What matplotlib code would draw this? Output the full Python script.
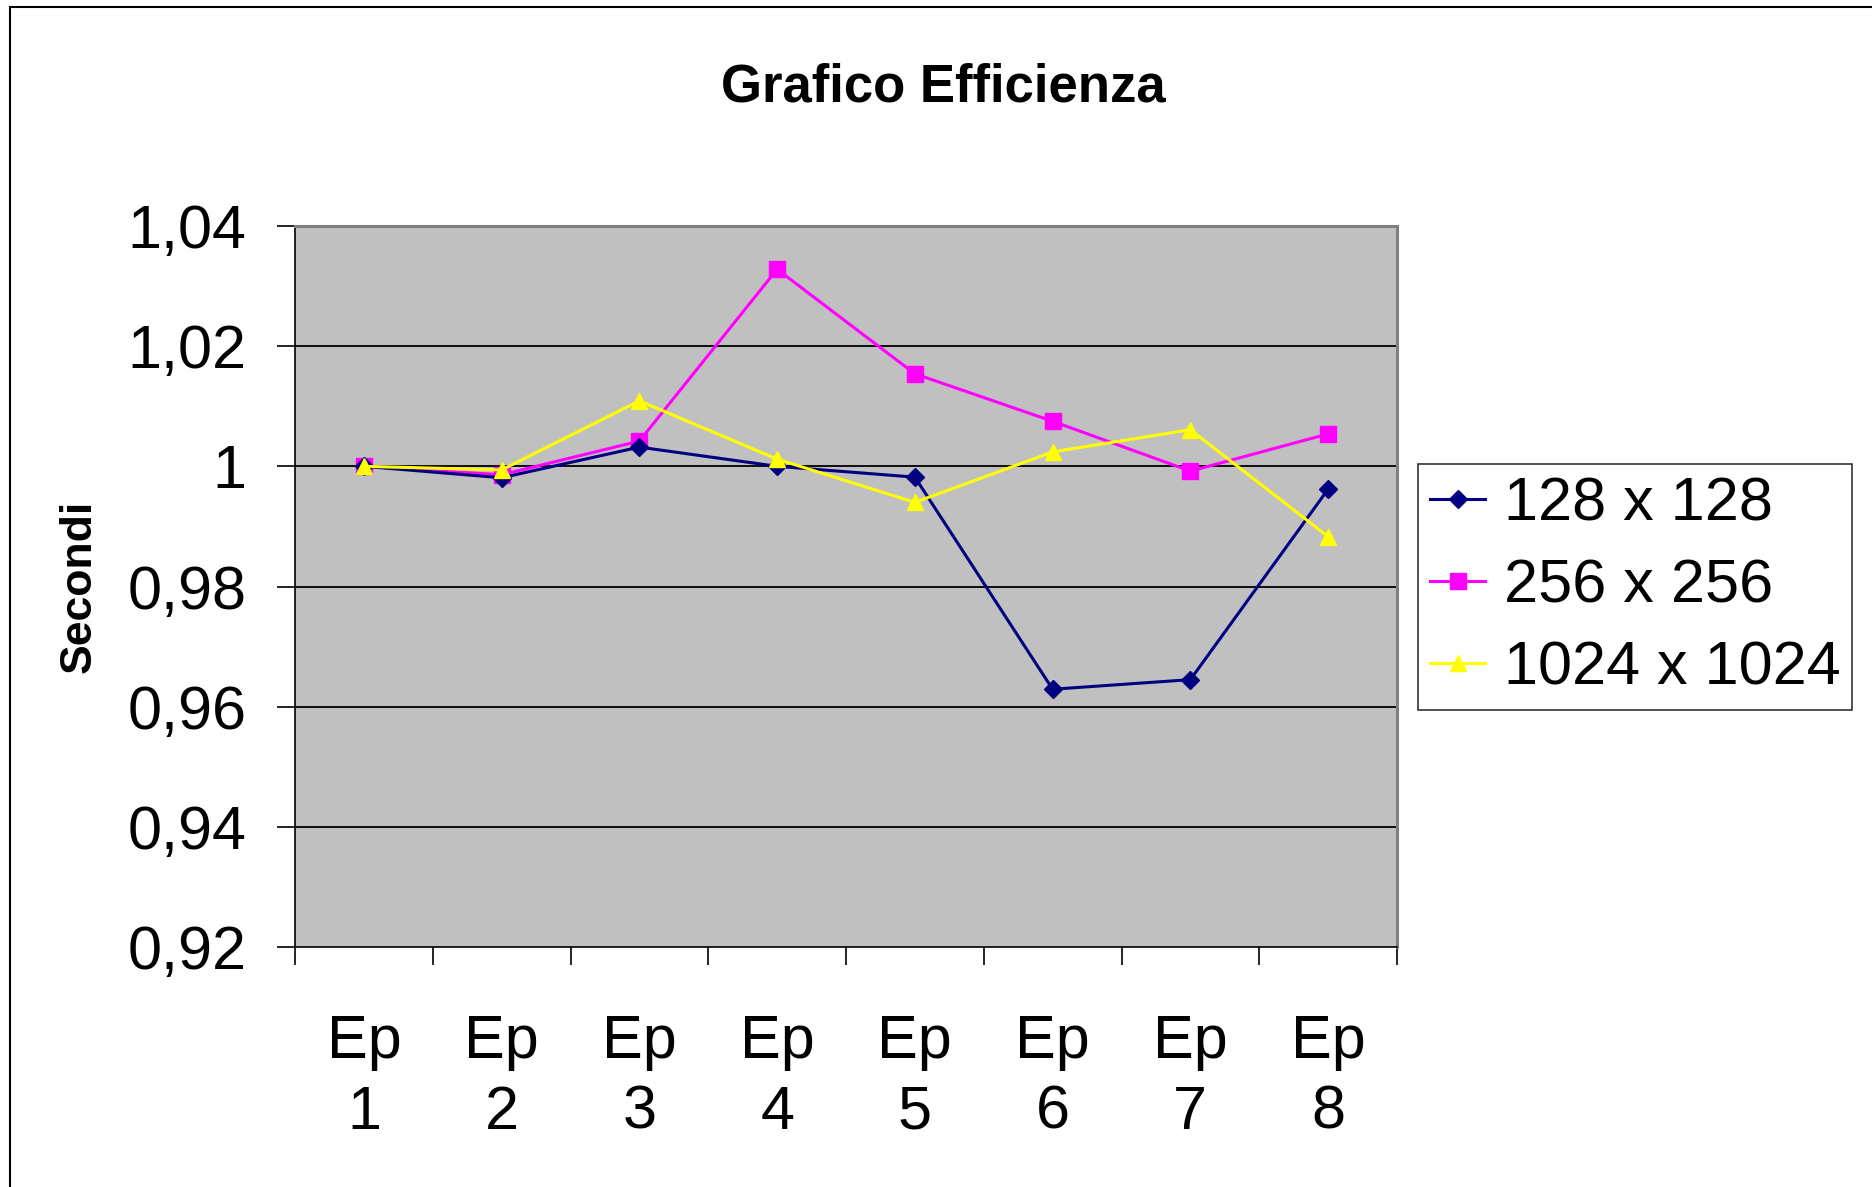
import matplotlib
matplotlib.use("Agg")
import matplotlib.pyplot as plt
from matplotlib.patches import Rectangle
from matplotlib.ticker import FixedLocator, NullFormatter

CATEGORIES = ["Ep\n1", "Ep\n2", "Ep\n3", "Ep\n4", "Ep\n5", "Ep\n6", "Ep\n7", "Ep\n8"]
SERIES_NAMES = ["128 x 128", "256 x 256", "1024 x 1024"]
VALUES_128 = [1.0, 0.9981, 1.0032, 1.0, 0.9982, 0.9629, 0.9645, 0.9962]
VALUES_256 = [1.0, 0.9986, 1.0042, 1.0328, 1.0154, 1.0075, 0.9992, 1.0054]
VALUES_1024 = [1.0, 0.9994, 1.0109, 1.0012, 0.9940, 1.0024, 1.0061, 0.9883]
Y_TICKS = [0.92, 0.94, 0.96, 0.98, 1.0, 1.02, 1.04]
Y_TICK_LABELS = ["0,92", "0,94", "0,96", "0,98", "1", "1,02", "1,04"]

W, H = 1872, 1187


def run():
    plt.rcParams["font.family"] = ["Liberation Sans", "DejaVu Sans"]
    fig = plt.figure(figsize=(W / 100, H / 100), dpi=100)

    # plot area in pixels: left 295, right 1397, top 226, bottom 947
    ax = fig.add_axes([295 / W, 1 - 947 / H, (1397 - 295) / W, (947 - 226) / H])
    ax.set_facecolor("#C0C0C0")

    x = list(range(len(CATEGORIES)))
    ax.plot(x, VALUES_128, color="#000080", lw=2.2, marker="D", ms=9,
            label=SERIES_NAMES[0], zorder=5)
    ax.plot(x, VALUES_256, color="#FF00FF", lw=2.2, marker="s", ms=11,
            label=SERIES_NAMES[1], zorder=4)
    ax.plot(x, VALUES_1024, color="#FFFF00", lw=2.2, marker="^", ms=12,
            label=SERIES_NAMES[2], zorder=6)

    ax.set_xlim(-0.5, len(CATEGORIES) - 0.5)
    ax.set_ylim(Y_TICKS[0], Y_TICKS[-1])

    ax.set_yticks(Y_TICKS)
    ax.set_yticklabels(Y_TICK_LABELS, fontsize=44)
    ax.tick_params(axis="y", length=13, width=1.2, pad=22, direction="out")
    for yv in Y_TICKS[1:-1]:
        ax.axhline(yv, color="black", lw=1.3, zorder=1)

    # tick marks on category boundaries, labels at category centres
    ax.xaxis.set_major_locator(FixedLocator([i - 0.5 for i in range(len(CATEGORIES) + 1)]))
    ax.xaxis.set_major_formatter(NullFormatter())
    ax.xaxis.set_minor_locator(FixedLocator(x))
    ax.set_xticklabels(CATEGORIES, minor=True, fontsize=44, linespacing=1.32)
    ax.tick_params(axis="x", which="major", length=13, width=1.2, direction="out")
    ax.tick_params(axis="x", which="minor", length=0, pad=48)

    for side in ("top", "right"):
        ax.spines[side].set_color("#808080")
        ax.spines[side].set_linewidth(2.2)
    for side in ("left", "bottom"):
        ax.spines[side].set_color("black")
        ax.spines[side].set_linewidth(1.2)

    fig.text(79 / W, 1 - 586 / H, "Secondi", fontsize=32, fontweight="bold",
             rotation=90, ha="center", va="center")

    fig.text(943 / W, 1 - 87 / H, "Grafico Efficienza", fontsize=38,
             fontweight="bold", ha="center", va="center")

    leg = fig.legend(loc="upper left", bbox_to_anchor=(1418 / W, 1 - 464 / H),
                     fontsize=44, frameon=True, fancybox=False, edgecolor="black",
                     borderaxespad=0, handlelength=0.9, handletextpad=0.3,
                     labelspacing=0.41, borderpad=0.2)
    leg.get_frame().set_linewidth(1.2)

    fig.patches.append(Rectangle((10 / W, -0.1), 1.2, 1.1 - 7 / H, fill=False,
                                 edgecolor="black", lw=1.5,
                                 transform=fig.transFigure, figure=fig))

    fig.savefig("out.png", dpi=100, facecolor="white")


if __name__ == "__main__":
    run()
